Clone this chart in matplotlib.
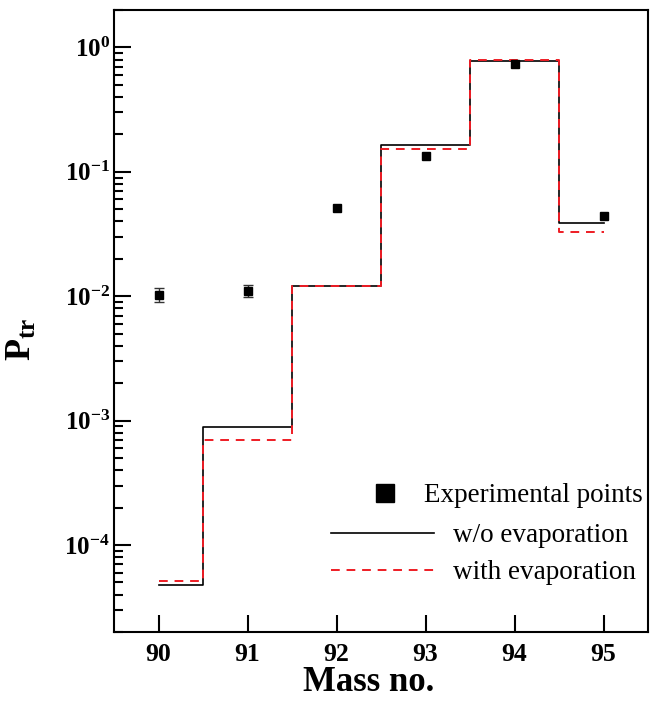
import numpy as np
import matplotlib
matplotlib.use("Agg")
import matplotlib.pyplot as plt
from matplotlib.ticker import LogLocator, FixedLocator, NullLocator

# values
mass = [90, 91, 92, 93, 94, 95]
exp_p = [0.0103, 0.0111, 0.0516, 0.134, 0.735, 0.044]
exp_err = [0.0013, 0.0013, 0.0, 0.0, 0.0, 0.0]
p_no_evap = [4.8e-5, 8.9e-4, 0.0121, 0.165, 0.78, 0.0385]
p_evap = [5.1e-5, 7.0e-4, 0.0121, 0.152, 0.79, 0.033]

plt.rcParams["font.family"] = ["Liberation Serif", "DejaVu Serif"]
plt.rcParams["mathtext.fontset"] = "custom"
plt.rcParams["mathtext.rm"] = "Liberation Serif:bold"
plt.rcParams["mathtext.bf"] = "Liberation Serif:bold"
plt.rcParams["mathtext.it"] = "Liberation Serif:bold:italic"

fig = plt.figure(figsize=(6.53, 7.05), dpi=100)
ax = fig.add_axes([114 / 653, 1 - 632 / 705, 534 / 653, 622 / 705])

l1, = ax.step(mass, p_no_evap, where="mid", color="black", lw=1.2)
l2, = ax.step(mass, p_evap, where="mid", color="#ee1c24", lw=1.4, ls=(0, (4.5, 3.5)))

m = np.array(mass, dtype=float)
e = np.array(exp_p)
err = np.array(exp_err)
mask = err > 0
ax.errorbar(m[mask], e[mask], yerr=err[mask], fmt="none", ecolor="#333333",
            capsize=3.6, elinewidth=1.0, capthick=1.0, zorder=3)
pts, = ax.plot(mass, exp_p, "s", color="black", ms=6.3, zorder=4)

ax.set_yscale("log")
ax.set_xlim(89.5, 95.5)
ax.set_ylim(2e-5, 2)
ax.xaxis.set_major_locator(FixedLocator(mass))
ax.xaxis.set_minor_locator(NullLocator())
ax.yaxis.set_major_locator(LogLocator(base=10, numticks=10))
ax.yaxis.set_minor_locator(LogLocator(base=10, subs=np.arange(2, 10), numticks=20))

for s in ax.spines.values():
    s.set_linewidth(1.5)
ax.tick_params(which="both", direction="in", top=False, right=False, width=1.5)
ax.tick_params(which="major", length=12)
ax.tick_params(which="minor", length=6.5)
ax.tick_params(axis="x", pad=8)
ax.tick_params(axis="y", pad=3)
for lab in ax.get_xticklabels():
    lab.set_fontsize(18.5)
    lab.set_fontweight("bold")
for lab in ax.get_yticklabels():
    lab.set_fontsize(18)
    lab.set_fontweight("bold")

ax.set_xlabel("Mass no.", fontsize=25, fontweight="bold")
ax.xaxis.set_label_coords(0.476, -0.054)
ax.set_ylabel(r"$\mathbf{P}_{\mathbf{tr}}$", fontsize=26)
ax.yaxis.set_label_coords(-0.14, 0.47)

leg1 = ax.legend([pts], ["Experimental points"], loc="center left",
                 bbox_to_anchor=(0.483, 0.2187), frameon=False, handlelength=1.0,
                 handletextpad=0.93, borderpad=0, borderaxespad=0, markerscale=2,
                 fontsize=19.5)
ax.add_artist(leg1)
ax.legend([l1, l2], ["w/o evaporation", "with evaporation"], loc="center left",
          bbox_to_anchor=(0.406, 0.125), frameon=False, handlelength=3.8,
          handletextpad=0.7, borderpad=0, borderaxespad=0, labelspacing=0.44,
          fontsize=19.5)

fig.savefig("out.png", dpi=100)
